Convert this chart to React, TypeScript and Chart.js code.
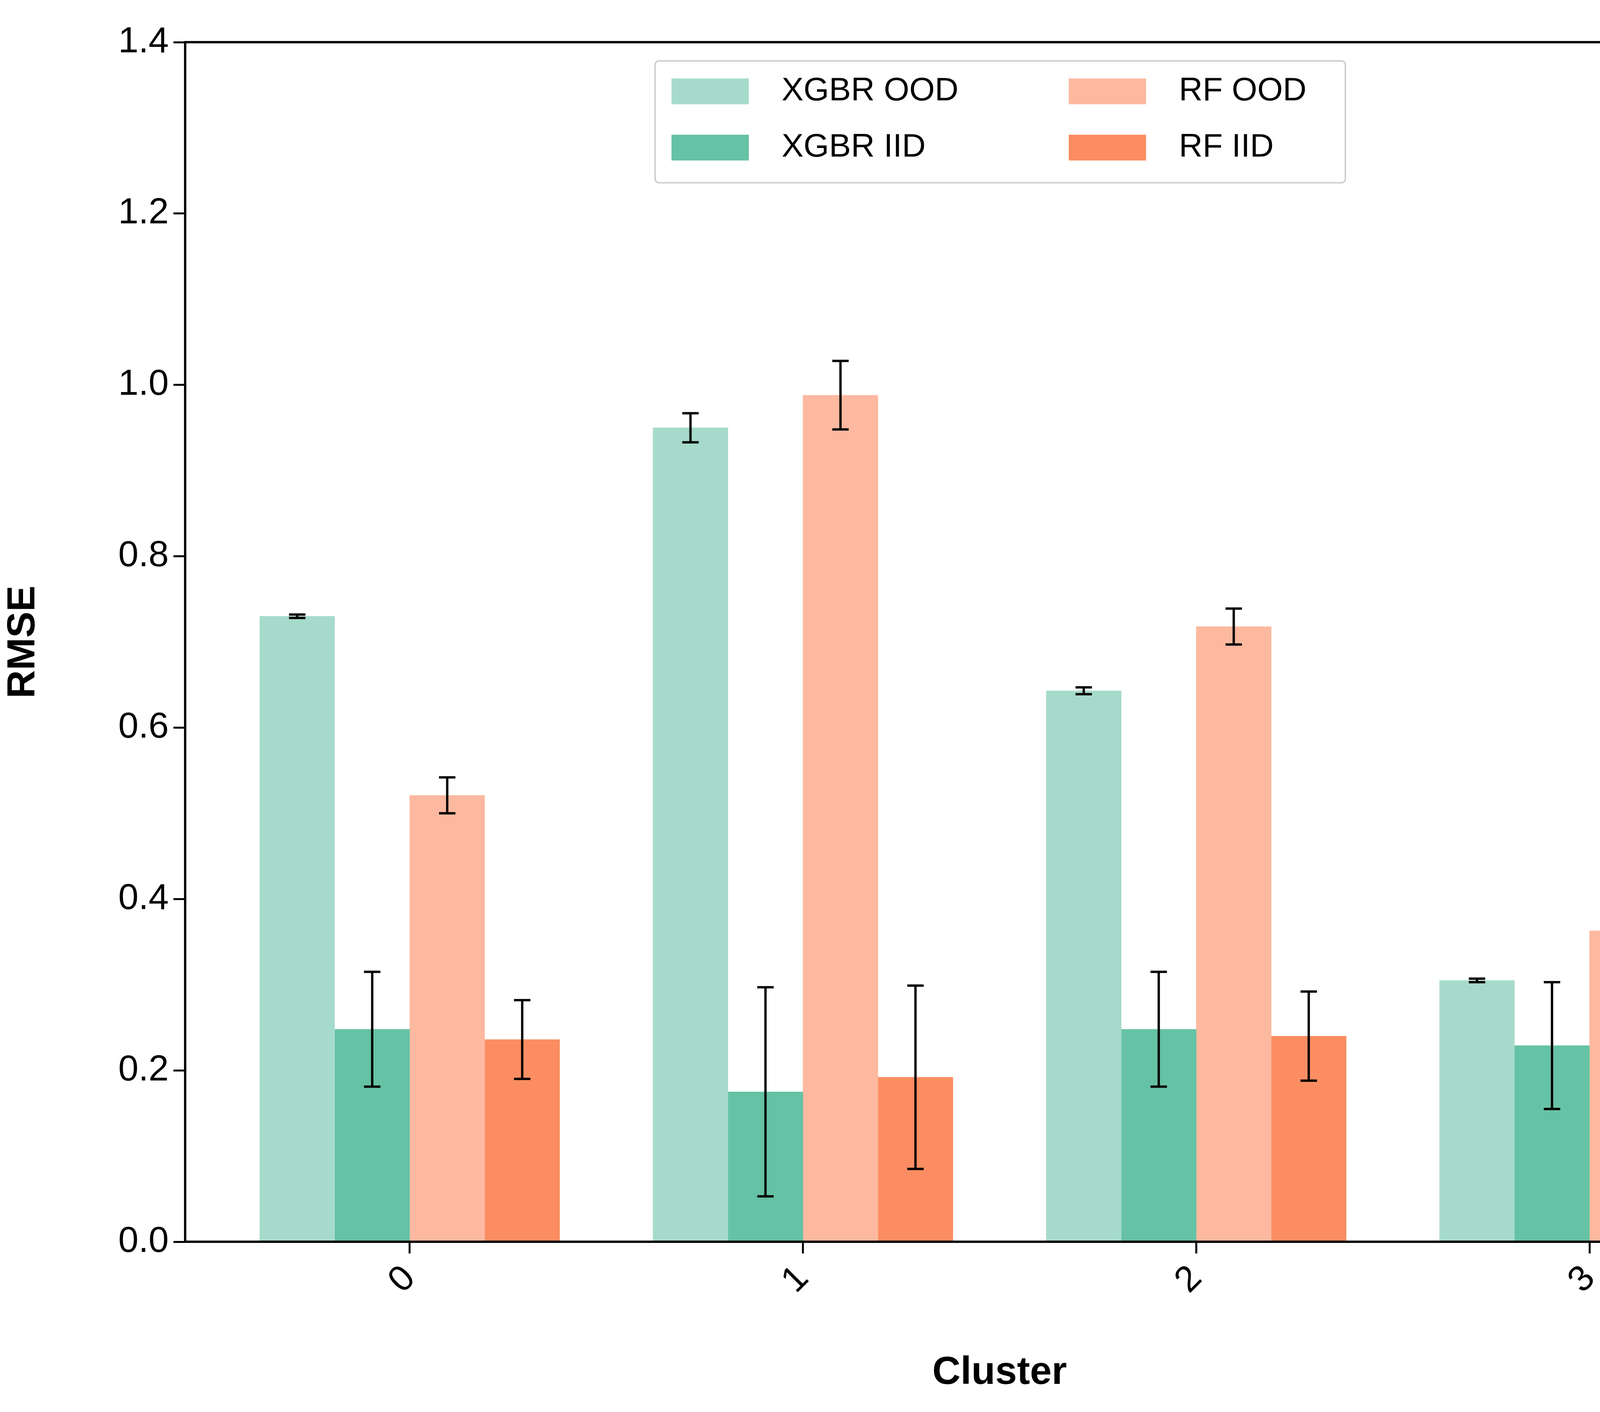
import React, { useRef, useEffect } from 'react';
import { Chart, registerables } from 'chart.js';

Chart.register(...registerables);

const clusters = [0, 1, 2, 3];
const seriesLabels = ['XGBR OOD', 'XGBR IID', 'RF OOD', 'RF IID'];
const seriesColors = ['#a6dbcb', '#66c2a5', '#fdb9a0', '#fc8d62'];
const xgbrOod = [0.730, 0.950, 0.643, 0.305];
const xgbrOodErr = [0.002, 0.017, 0.004, 0.002];
const xgbrIid = [0.248, 0.175, 0.248, 0.229];
const xgbrIidErr = [0.067, 0.122, 0.067, 0.074];
const rfOod = [0.521, 0.988, 0.718, 0.363];
const rfOodErr = [0.021, 0.040, 0.021, 0.034];
const rfIid = [0.236, 0.192, 0.240, 0.233];
const rfIidErr = [0.046, 0.107, 0.052, 0.062];
const yTicks = [0, 0.2, 0.4, 0.6, 0.8, 1.0, 1.2, 1.4];

const values = [xgbrOod, xgbrIid, rfOod, rfIid];
const errors = [xgbrOodErr, xgbrIidErr, rfOodErr, rfIidErr];
const FONT = '"Liberation Sans", Arial, sans-serif';

const errorBars = {
  id: 'errorBars',
  afterDatasetsDraw(chart: any) {
    const { ctx, scales } = chart;
    ctx.save();
    ctx.strokeStyle = '#000';
    ctx.lineWidth = 6;
    chart.data.datasets.forEach((ds: any, di: number) => {
      chart.getDatasetMeta(di).data.forEach((el: any, i: number) => {
        const v = values[di][i];
        const e = errors[di][i];
        const yt = scales.y.getPixelForValue(v + e);
        const yb = scales.y.getPixelForValue(v - e);
        ctx.beginPath();
        ctx.moveTo(el.x, yt); ctx.lineTo(el.x, yb);
        ctx.moveTo(el.x - 21, yt); ctx.lineTo(el.x + 21, yt);
        ctx.moveTo(el.x - 21, yb); ctx.lineTo(el.x + 21, yb);
        ctx.stroke();
      });
    });
    const a = chart.chartArea;
    ctx.lineWidth = 6;
    ctx.strokeRect(a.left, a.top, a.right - a.left, a.bottom - a.top);
    // legend
    const bx = 1677, by = 156, bw = 1767, bh = 312;
    ctx.fillStyle = 'rgba(255,255,255,0.8)';
    ctx.strokeStyle = '#d0d0d0';
    ctx.lineWidth = 4;
    ctx.beginPath();
    ctx.roundRect(bx, by, bw, bh, 10);
    ctx.fill(); ctx.stroke();
    const cols = [[0, 1], [2, 3]];
    ctx.font = `84px ${FONT}`;
    ctx.textBaseline = 'middle';
    cols.forEach((col, c) => {
      col.forEach((di, r) => {
        const px = c === 0 ? 1719 : 2736;
        const cy = 234 + r * 144;
        ctx.fillStyle = seriesColors[di];
        ctx.fillRect(px, cy - 33, 198, 66);
        ctx.fillStyle = '#000';
        ctx.fillText(seriesLabels[di], px + 282, cy);
      });
    });
    ctx.restore();
  },
};

const App = () => {
  const canvasRef = useRef<HTMLCanvasElement>(null);

  useEffect(() => {
    document.body.style.margin = '0';
    const chart = new Chart(canvasRef.current as HTMLCanvasElement, {
      type: 'bar',
      data: {
        datasets: seriesLabels.map((label, di) => ({
          label,
          data: clusters.map((c, i) => ({ x: c, y: values[di][i] })),
          backgroundColor: seriesColors[di],
          barThickness: 192,
        })),
      },
      options: {
        animation: false,
        responsive: false,
        devicePixelRatio: 1,
        layout: { padding: { top: 108, right: 62, left: 0, bottom: 0 } },
        plugins: { legend: { display: false }, tooltip: { enabled: false } },
        scales: {
          x: {
            type: 'linear',
            offset: false,
            min: -0.571,
            max: 3.571,
            afterBuildTicks: (s: any) => { s.ticks = clusters.map((v) => ({ value: v })); },
            afterFit: (s: any) => { s.height = 436; },
            grid: { offset: false, drawOnChartArea: false, drawTicks: true, tickLength: 30, color: '#000', lineWidth: 5 },
            border: { display: false },
            ticks: {
              minRotation: 45, maxRotation: 45, padding: 10,
              color: '#000', font: { family: FONT, size: 93 },
              callback: (v: any) => String(v),
            },
            title: { display: true, text: 'Cluster', color: '#000', font: { family: FONT, size: 100, weight: 'bold' }, padding: { top: 0, bottom: 40 } },
          },
          y: {
            min: 0,
            max: 1.4,
            afterBuildTicks: (s: any) => { s.ticks = yTicks.map((v) => ({ value: v })); },
            afterFit: (s: any) => { s.width = 474; },
            grid: { drawOnChartArea: false, drawTicks: true, tickLength: 30, color: '#000', lineWidth: 5 },
            border: { display: false },
            ticks: {
              padding: 12, color: '#000', font: { family: FONT, size: 93 },
              callback: (v: any) => Number(v).toFixed(1),
            },
            title: { display: true, text: 'RMSE', color: '#000', font: { family: FONT, size: 100, weight: 'bold' }, padding: { top: 0, bottom: 20 } },
          },
        },
      },
      plugins: [errorBars],
    } as any);
    return () => chart.destroy();
  }, []);

  return (
    <div style={{ width: 4706, height: 3616, background: '#fff' }}>
      <canvas ref={canvasRef} width={4706} height={3616} style={{ width: 4706, height: 3616, display: 'block' }} />
    </div>
  );
};

export default App;
